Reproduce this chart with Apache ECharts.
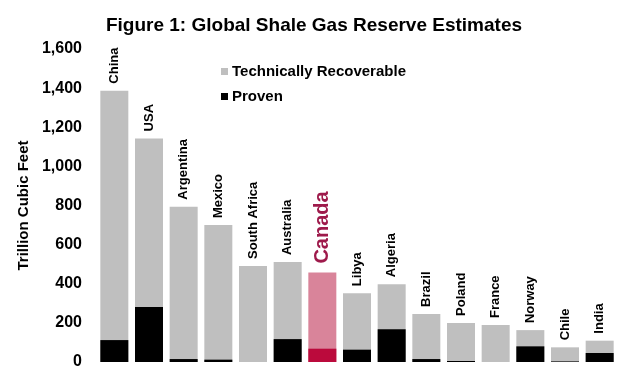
<!DOCTYPE html>
<html lang="en">
<head>
    <meta charset="UTF-8">
    <title>Global Shale Gas Reserve Estimates</title>
    <style>
        html, body { margin: 0; padding: 0; background: #fff; }
        #main { width: 628px; height: 377px; }
    </style>
</head>
<body>
<div id="main"></div>
<script src="https://cdn.jsdelivr.net/npm/echarts@6/dist/echarts.min.js"></script>
<script>
    // values (trillion cubic feet)
    const countries = ['China', 'USA', 'Argentina', 'Mexico', 'South Africa', 'Australia', 'Canada',
        'Libya', 'Algeria', 'Brazil', 'Poland', 'France', 'Norway', 'Chile', 'India'];
    const recoverable = [1387, 1143, 794, 700, 491, 511, 457, 352, 398, 246, 200, 189, 163, 75, 109];
    const proven = [112, 281, 15, 12, 0, 117, 68, 63, 167, 15, 5, 0, 80, 3, 46];
    const yTicks = [0, 200, 400, 600, 800, 1000, 1200, 1400, 1600];

    const highlight = 'Canada';
    const font = 'Arial, "Liberation Sans", sans-serif';

    const myChart = echarts.init(document.getElementById('main'), null, {renderer: 'canvas'});

    // Canada gets its own colours and a bigger label
    const recData = recoverable.map(function (v, i) {
        if (countries[i] !== highlight) return v;
        return {
            value: v,
            itemStyle: {color: '#d9849a'},
            label: {fontSize: 20, color: '#9e1a4b', distance: 9}
        };
    });
    const provenData = proven.map(function (v, i) {
        if (countries[i] !== highlight) return v;
        return {value: v, itemStyle: {color: '#bb0a3c'}};
    });

    const option = {
        animation: false,
        textStyle: {fontFamily: font},
        title: {
            text: 'Figure 1: Global Shale Gas Reserve Estimates',
            left: 'center',
            top: 11,
            textStyle: {fontFamily: font, fontSize: 19, fontWeight: 'bold', color: '#000'}
        },
        legend: {
            orient: 'vertical',
            left: 216,
            top: 59,
            itemGap: 10,
            itemWidth: 7,
            itemHeight: 7,
            icon: 'rect',
            textStyle: {fontSize: 15, fontWeight: 'bold', color: '#000', padding: [0, 0, 0, -1]},
            data: ['Technically Recoverable', 'Proven']
        },
        grid: {left: 97, right: 11, top: 49, bottom: 15},
        xAxis: {
            type: 'category',
            data: countries,
            axisLine: {show: false},
            axisTick: {show: false},
            axisLabel: {show: false}
        },
        yAxis: {
            type: 'value',
            min: yTicks[0],
            max: yTicks[yTicks.length - 1],
            interval: 200,
            name: 'Trillion Cubic Feet',
            nameLocation: 'middle',
            nameRotate: 90,
            nameGap: 63,
            nameTextStyle: {fontSize: 15, fontWeight: 'bold', color: '#000'},
            axisLine: {show: false},
            axisTick: {show: false},
            splitLine: {show: false},
            axisLabel: {
                fontSize: 16, fontWeight: 'bold', color: '#000', margin: 15,
                formatter: function (v) { return v.toLocaleString('en-US'); }
            }
        },
        series: [
            {
                name: 'Technically Recoverable',
                type: 'bar',
                data: recData,
                barWidth: 28,
                itemStyle: {color: '#bfbfbf'},
                label: {
                    show: true,
                    position: 'top',
                    rotate: 90,
                    align: 'left',
                    verticalAlign: 'middle',
                    distance: 7,
                    fontSize: 13,
                    fontWeight: 'bold',
                    color: '#000',
                    formatter: function (p) { return p.name; }
                }
            },
            {
                name: 'Proven',
                type: 'bar',
                data: provenData,
                barWidth: 28,
                barGap: '-100%',
                itemStyle: {color: '#000'}
            }
        ]
    };

    myChart.setOption(option);
</script>
</body>
</html>
